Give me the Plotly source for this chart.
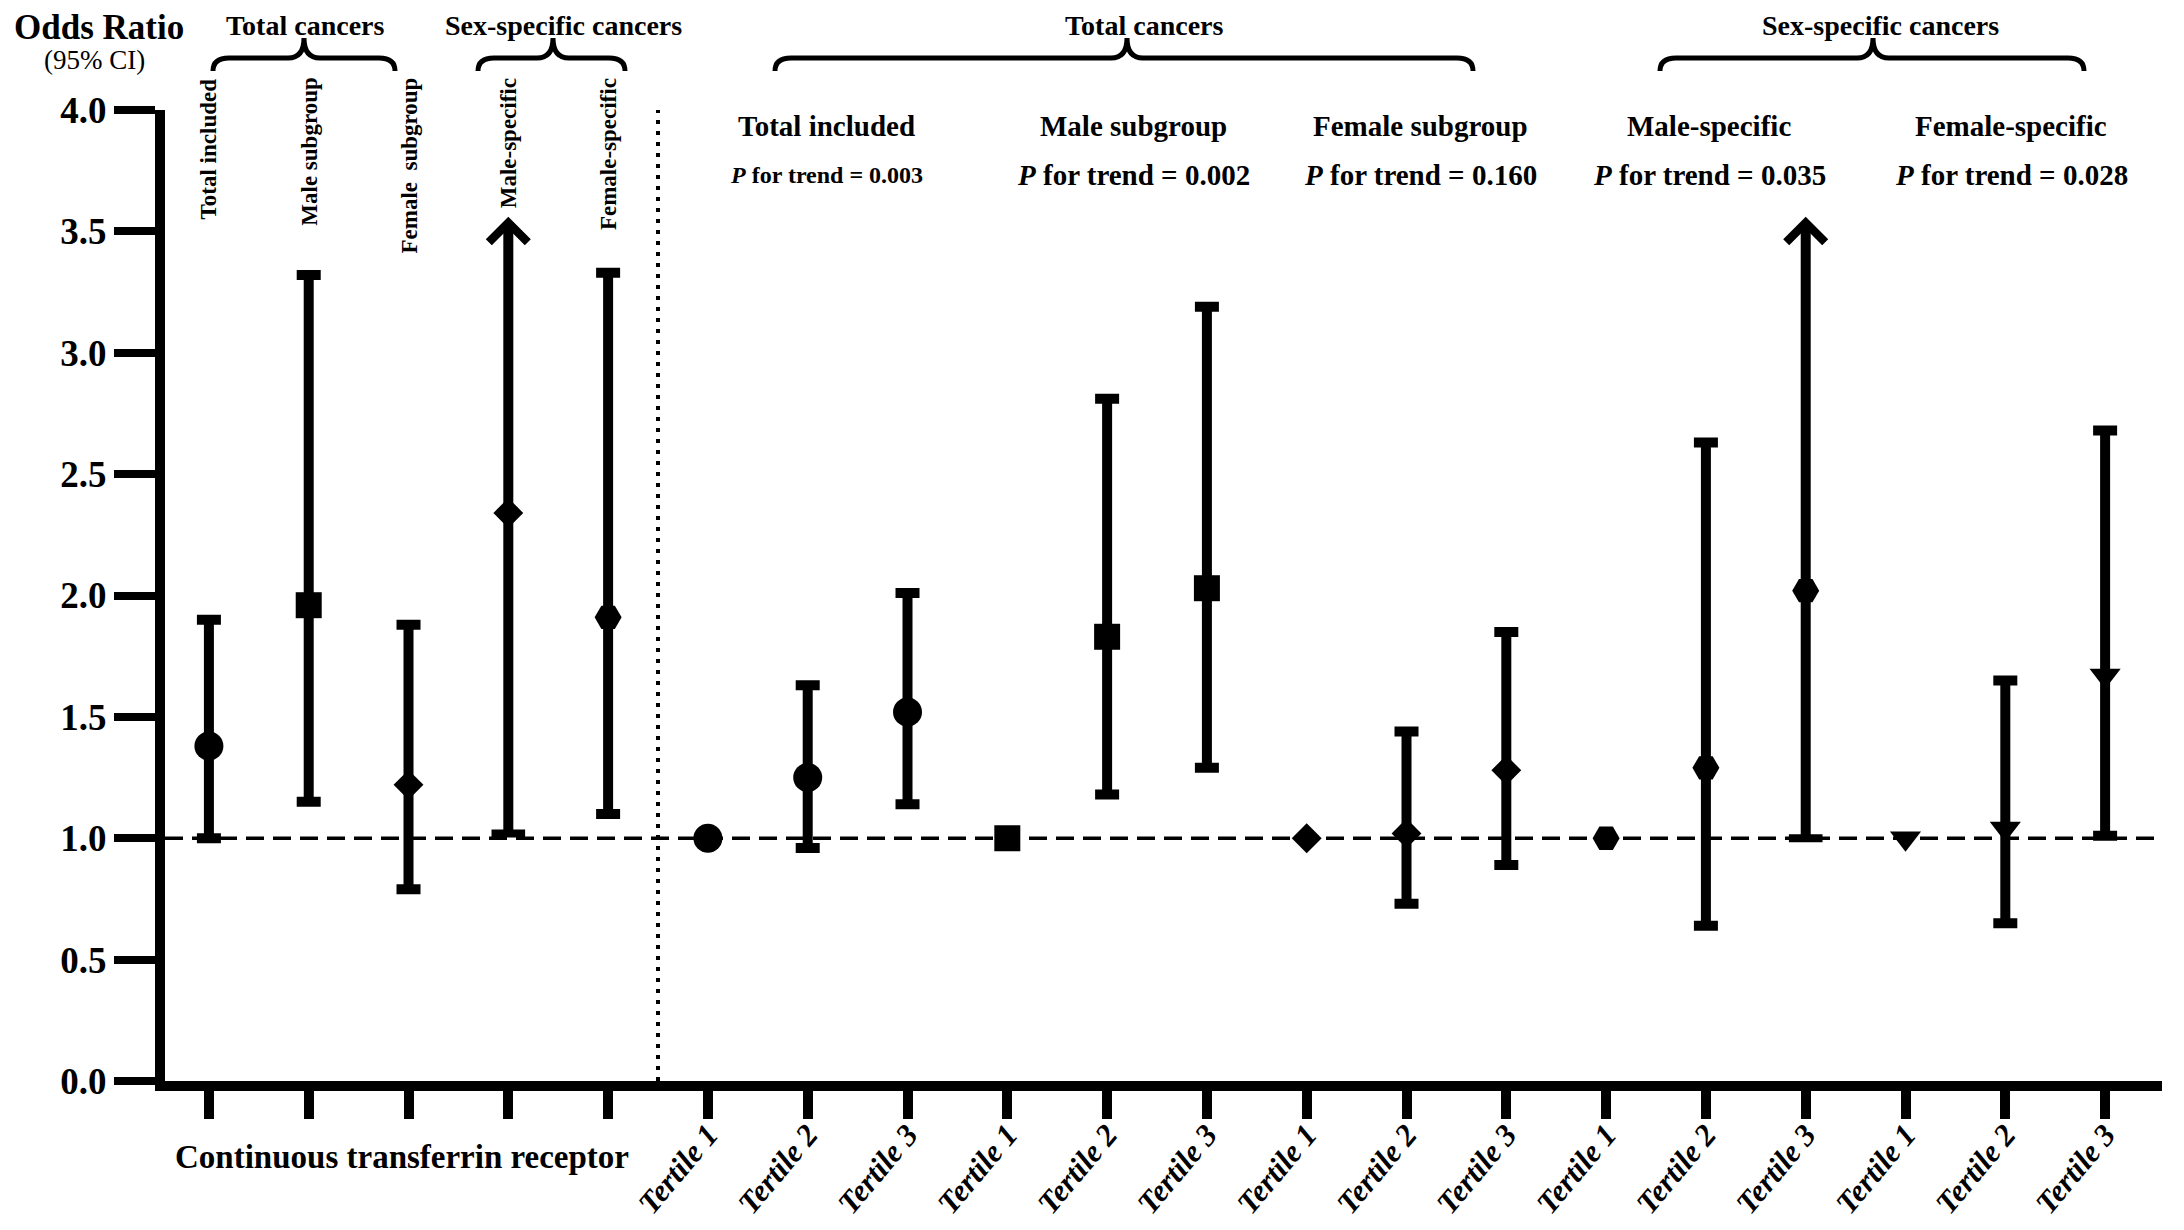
import plotly.graph_objects as go

# one position per estimate: 5 continuous models, then tertiles for 5 groups
positions = list(range(20))
tick_labels = [""] * 5 + ["Tertile 1", "Tertile 2", "Tertile 3"] * 5
continuous_labels = ["Total included", "Male subgroup", "Female  subgroup",
                     "Male-specific", "Female-specific"]
tertile_headers = ["Total included", "Male subgroup", "Female subgroup",
                   "Male-specific", "Female-specific"]
p_trend = ["0.003", "0.002", "0.160", "0.035", "0.028"]

odds_ratio = [1.38, 1.96, 1.22, 2.34, 1.91,
              1.00, 1.25, 1.52,
              1.00, 1.83, 2.03,
              1.00, 1.02, 1.28,
              1.00, 1.29, 2.02,
              1.00, 1.04, 1.67]
ci_lower = [1.00, 1.15, 0.79, 1.02, 1.10,
            None, 0.96, 1.14,
            None, 1.18, 1.29,
            None, 0.73, 0.89,
            None, 0.64, 1.00,
            None, 0.65, 1.01]
ci_upper = [1.90, 3.32, 1.88, None, 3.33,
            None, 1.63, 2.01,
            None, 2.81, 3.19,
            None, 1.44, 1.85,
            None, 2.63, None,
            None, 1.65, 2.68]
# upper limit runs off the scale -> drawn as an arrow to this height
arrow_tip = [None, None, None, 3.56, None,
             None, None, None,
             None, None, None,
             None, None, None,
             None, None, 3.56,
             None, None, None]
symbols = ["circle", "square", "diamond", "diamond", "hexagon2",
           "circle", "circle", "circle",
           "square", "square", "square",
           "diamond", "diamond", "diamond",
           "hexagon2", "hexagon2", "hexagon2",
           "triangle-down", "triangle-down", "triangle-down"]
reference_or = 1.0

FONT = "Liberation Serif"
# the page body has an 8px margin, so the figure is shrunk by 16px
W, H = 2168, 1214
L, R, T, B = 157, 14, 102, 141
PW, PH = W - L - R, H - T - B
OFF = 8


def px_x(p):
    return (p - OFF - L) / PW


def px_y(p):
    return (H - B - (p - OFF)) / PH


size_of = {"circle": 29, "square": 26, "diamond": 23, "hexagon2": 27, "triangle-down": 27}


def marker_for(idx):
    return dict(symbol=[symbols[i] for i in idx],
                size=[size_of[symbols[i]] for i in idx],
                color="black", opacity=1, line=dict(width=0))


fig = go.Figure()

# estimates with a normal two-sided CI
idx = [i for i in positions if ci_upper[i] is not None]
fig.add_trace(go.Scatter(
    x=[positions[i] for i in idx],
    y=[odds_ratio[i] for i in idx],
    mode="markers", marker=marker_for(idx),
    error_y=dict(type="data", symmetric=False,
                 array=[ci_upper[i] - odds_ratio[i] for i in idx],
                 arrayminus=[odds_ratio[i] - ci_lower[i] for i in idx],
                 color="black", thickness=10, width=12),
    showlegend=False, hoverinfo="skip",
))

# reference tertiles (OR fixed at 1)
idx = [i for i in positions if ci_lower[i] is None]
fig.add_trace(go.Scatter(
    x=[positions[i] for i in idx],
    y=[odds_ratio[i] for i in idx],
    mode="markers", marker=marker_for(idx),
    showlegend=False, hoverinfo="skip",
))

# estimates whose upper limit is off the scale
idx = [i for i in positions if arrow_tip[i] is not None]
fig.add_trace(go.Scatter(
    x=[positions[i] for i in idx],
    y=[ci_lower[i] for i in idx],
    mode="markers",
    marker=dict(symbol="line-ew", size=24, opacity=1, line=dict(width=8, color="black")),
    showlegend=False, hoverinfo="skip",
))
for i in idx:
    fig.add_annotation(x=positions[i], y=arrow_tip[i], ax=positions[i], ay=ci_lower[i],
                       xref="x", yref="y", axref="x", ayref="y", text="",
                       showarrow=True, arrowhead=4, arrowsize=0.75, arrowwidth=10,
                       arrowcolor="black")
fig.add_trace(go.Scatter(
    x=[positions[i] for i in idx],
    y=[odds_ratio[i] for i in idx],
    mode="markers", marker=marker_for(idx),
    showlegend=False, hoverinfo="skip",
))

# reference line and separator
fig.add_shape(type="line", xref="paper", yref="y", x0=0, x1=1, y0=reference_or, y1=reference_or,
              line=dict(color="black", width=3.5, dash="18px,9px"), layer="below")
fig.add_shape(type="line", xref="x", yref="y", x0=4.5, x1=4.5, y0=0, y1=4,
              line=dict(color="black", width=4, dash="4px,7px"), layer="below")


def brace(x0, x1, xm, top=38, mid=58, bottom=71, r=16):
    pts = [(x0, bottom), (x0, mid), (x0 + r, mid), (xm - r, mid), (xm, mid), (xm, top),
           (xm, mid), (xm + r, mid), (x1 - r, mid), (x1, mid), (x1, bottom)]
    p = [(px_x(a), px_y(b)) for a, b in pts]
    path = ("M{0[0]},{0[1]} Q{1[0]},{1[1]} {2[0]},{2[1]} L{3[0]},{3[1]} "
            "Q{4[0]},{4[1]} {5[0]},{5[1]} Q{6[0]},{6[1]} {7[0]},{7[1]} "
            "L{8[0]},{8[1]} Q{9[0]},{9[1]} {10[0]},{10[1]}").format(*p)
    fig.add_shape(type="path", xref="paper", yref="paper", path=path,
                  line=dict(color="black", width=5))


brace(213, 395, 304)
brace(478, 625, 553)
brace(775, 1473, 1127)
brace(1660, 2084, 1873)


def label(text, x, y, size, bold=True):
    fig.add_annotation(text=text, x=px_x(x), y=px_y(y), xref="paper", yref="paper",
                       xanchor="center", yanchor="middle", showarrow=False,
                       font=dict(family=FONT, size=size, color="black",
                                 weight="bold" if bold else "normal"))


label("Odds Ratio", 99, 27, 35)
label("(95% CI)", 94, 60, 27, bold=False)
label("Total cancers", 305, 25, 28)
label("Sex-specific cancers", 563, 25, 28)
label("Total cancers", 1144, 25, 28)
label("Sex-specific cancers", 1880, 26, 28)
label("Continuous transferrin receptor", 402, 1157, 33)

for k, txt in enumerate(continuous_labels):
    fig.add_annotation(text=txt, x=positions[k], y=px_y(76), xref="x", yref="paper",
                       textangle=-90, yanchor="top", xanchor="center", showarrow=False,
                       font=dict(family=FONT, size=23, color="black", weight="bold"))

header_x = [826, 1133, 1420, 1709, 2011]
for k, txt in enumerate(tertile_headers):
    label(txt, header_x[k], 126, 29)
    label("<i>P</i> for trend = " + p_trend[k], header_x[k], 175, 24 if k == 0 else 29)

fig.update_xaxes(range=[-0.44, 19.57], tickmode="array", tickvals=positions,
                 ticktext=tick_labels, tickangle=-50, ticklabelstandoff=-15,
                 tickfont=dict(family=FONT, size=31, color="black", weight="bold", style="italic"),
                 ticks="outside", ticklen=28, tickwidth=10, tickcolor="black",
                 showline=True, linewidth=10, linecolor="black",
                 showgrid=False, zeroline=False, automargin=False)
fig.update_yaxes(range=[0, 4], tickmode="array", tickvals=[0, 0.5, 1, 1.5, 2, 2.5, 3, 3.5, 4],
                 tickformat=".1f",
                 tickfont=dict(family=FONT, size=37, color="black", weight="bold"),
                 ticks="outside", ticklen=41, tickwidth=8, tickcolor="black",
                 showline=True, linewidth=10, linecolor="black",
                 showgrid=False, zeroline=False, automargin=False)

fig.update_layout(width=W, height=H, margin=dict(l=L, r=R, t=T, b=B),
                  plot_bgcolor="white", paper_bgcolor="white",
                  font=dict(family=FONT, color="black"))

fig.write_html("out.html")
